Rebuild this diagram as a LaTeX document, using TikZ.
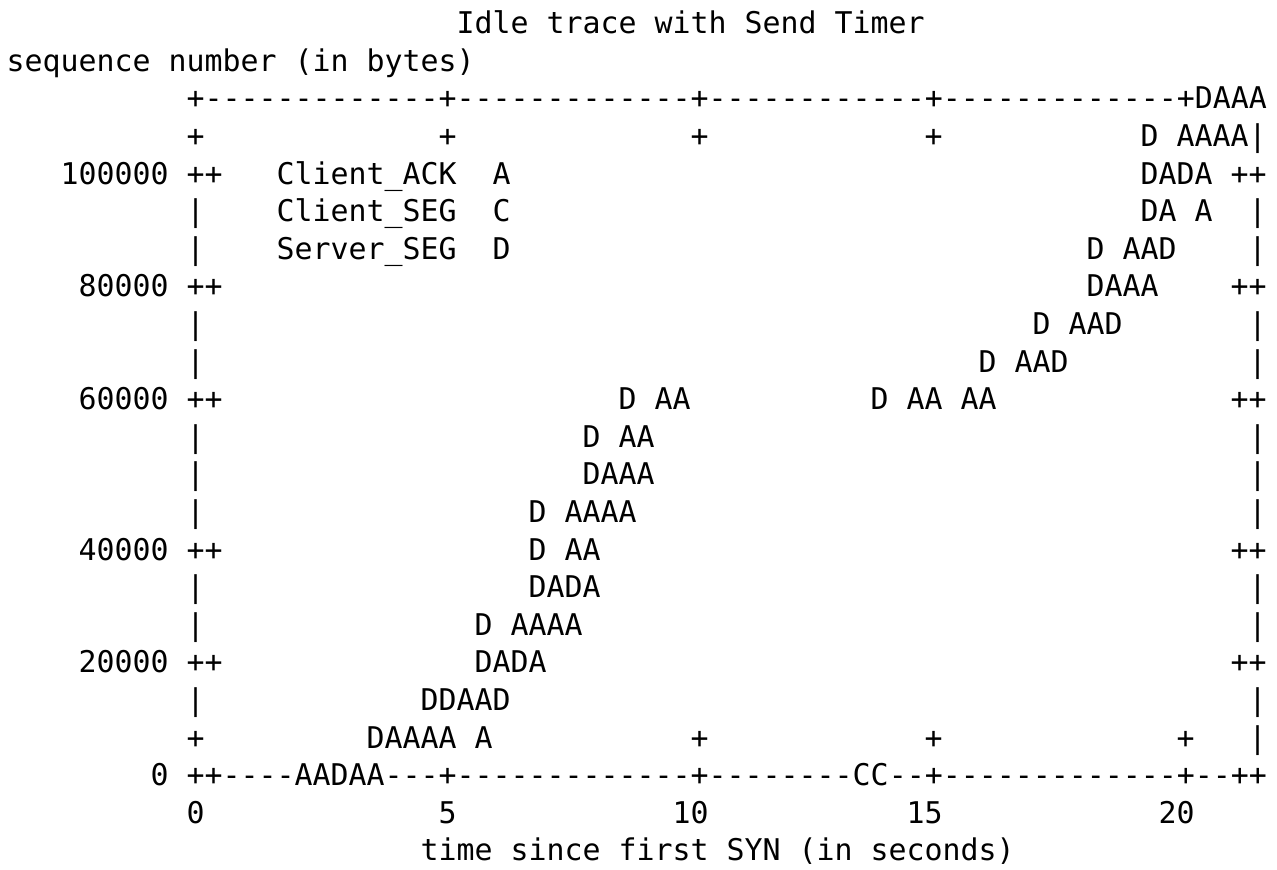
\documentclass[tikz,border=0pt]{standalone}
\usepackage{fontspec}
\setmonofont{DejaVu Sans Mono}
\ExplSyntaxOn
% run of #1 copies of the character #2
\NewDocumentCommand\rn{mm}{\prg_replicate:nn{#1}{#2}}
\ExplSyntaxOff
\begin{document}
\begin{tikzpicture}[x=13.5pt,y=-28.2pt,
  cell/.style={font=\ttfamily\fontsize{22.43pt}{28pt}\selectfont,
               inner sep=0pt, outer sep=0pt, anchor=base west, text=black}]
\useasboundingbox (-4.95pt,25.3pt) rectangle (952.8pt,-626.5pt);
% one character cell = one column (x) by one text line (y)

% title and axis labels
\node[cell] (title) at (25,0) {Idle trace with Send Timer};
\node[cell] (ylab)  at (0,1)  {sequence number (in bytes)};
\node[cell] (xlab)  at (23,22) {time since first SYN (in seconds)};

% top border with its tics
\node[cell] (top) at (10,2) {+\rn{13}{-}+\rn{13}{-}+\rn{12}{-}+\rn{13}{-}+DAAA};
\node[cell] (tt0) at (10,3) {+};
\node[cell] (tt1) at (24,3) {+};
\node[cell] (tt2) at (38,3) {+};
\node[cell] (tt3) at (51,3) {+};
\node[cell] (d3)  at (63,3) {D AAAA|};

% y tic labels
\node[cell] (y100) at (3,4)  {100000};
\node[cell] (y80)  at (4,7)  {80000};
\node[cell] (y60)  at (4,10) {60000};
\node[cell] (y40)  at (4,14) {40000};
\node[cell] (y20)  at (4,17) {20000};
\node[cell] (y0)   at (8,20) {0};

% left border
\node[cell] (l4)  at (10,4)  {++};
\node[cell] (l5)  at (10,5)  {|};
\node[cell] (l6)  at (10,6)  {|};
\node[cell] (l7)  at (10,7)  {++};
\node[cell] (l8)  at (10,8)  {|};
\node[cell] (l9)  at (10,9)  {|};
\node[cell] (l10) at (10,10) {++};
\node[cell] (l11) at (10,11) {|};
\node[cell] (l12) at (10,12) {|};
\node[cell] (l13) at (10,13) {|};
\node[cell] (l14) at (10,14) {++};
\node[cell] (l15) at (10,15) {|};
\node[cell] (l16) at (10,16) {|};
\node[cell] (l17) at (10,17) {++};
\node[cell] (l18) at (10,18) {|};
\node[cell] (l19) at (10,19) {+};

% right border
\node[cell] (r5)  at (69,5)  {|};
\node[cell] (r6)  at (69,6)  {|};
\node[cell] (r7)  at (68,7)  {++};
\node[cell] (r8)  at (69,8)  {|};
\node[cell] (r9)  at (69,9)  {|};
\node[cell] (r10) at (68,10) {++};
\node[cell] (r11) at (69,11) {|};
\node[cell] (r12) at (69,12) {|};
\node[cell] (r13) at (69,13) {|};
\node[cell] (r14) at (68,14) {++};
\node[cell] (r15) at (69,15) {|};
\node[cell] (r16) at (69,16) {|};
\node[cell] (r17) at (68,17) {++};
\node[cell] (r18) at (69,18) {|};
\node[cell] (r19) at (69,19) {|};

% key
\node[cell] (k1)  at (15,4) {Client\_ACK};
\node[cell] (k1s) at (27,4) {A};
\node[cell] (k2)  at (15,5) {Client\_SEG};
\node[cell] (k2s) at (27,5) {C};
\node[cell] (k3)  at (15,6) {Server\_SEG};
\node[cell] (k3s) at (27,6) {D};

% data points
\node[cell] (d4)  at (63,4)  {DADA ++};
\node[cell] (d5)  at (63,5)  {DA A};
\node[cell] (d6)  at (60,6)  {D AAD};
\node[cell] (d7)  at (60,7)  {DAAA};
\node[cell] (d8)  at (57,8)  {D AAD};
\node[cell] (d9)  at (54,9)  {D AAD};
\node[cell] (d10a) at (34,10) {D AA};
\node[cell] (d10b) at (48,10) {D AA AA};
\node[cell] (d11) at (32,11) {D AA};
\node[cell] (d12) at (32,12) {DAAA};
\node[cell] (d13) at (29,13) {D AAAA};
\node[cell] (d14) at (29,14) {D AA};
\node[cell] (d15) at (29,15) {DADA};
\node[cell] (d16) at (26,16) {D AAAA};
\node[cell] (d17) at (26,17) {DADA};
\node[cell] (d18) at (23,18) {DDAAD};
\node[cell] (d19) at (20,19) {DAAAA A};

% bottom tics and border
\node[cell] (bt2) at (38,19) {+};
\node[cell] (bt3) at (51,19) {+};
\node[cell] (bt4) at (65,19) {+};
\node[cell] (bottom) at (10,20)
  {++\rn{4}{-}AADAA\rn{3}{-}+\rn{13}{-}+\rn{8}{-}CC\rn{2}{-}+\rn{13}{-}+--++};

% x tic labels
\node[cell] (x0)  at (10,21) {0};
\node[cell] (x5)  at (24,21) {5};
\node[cell] (x10) at (37,21) {10};
\node[cell] (x15) at (50,21) {15};
\node[cell] (x20) at (64,21) {20};
\end{tikzpicture}
\end{document}
